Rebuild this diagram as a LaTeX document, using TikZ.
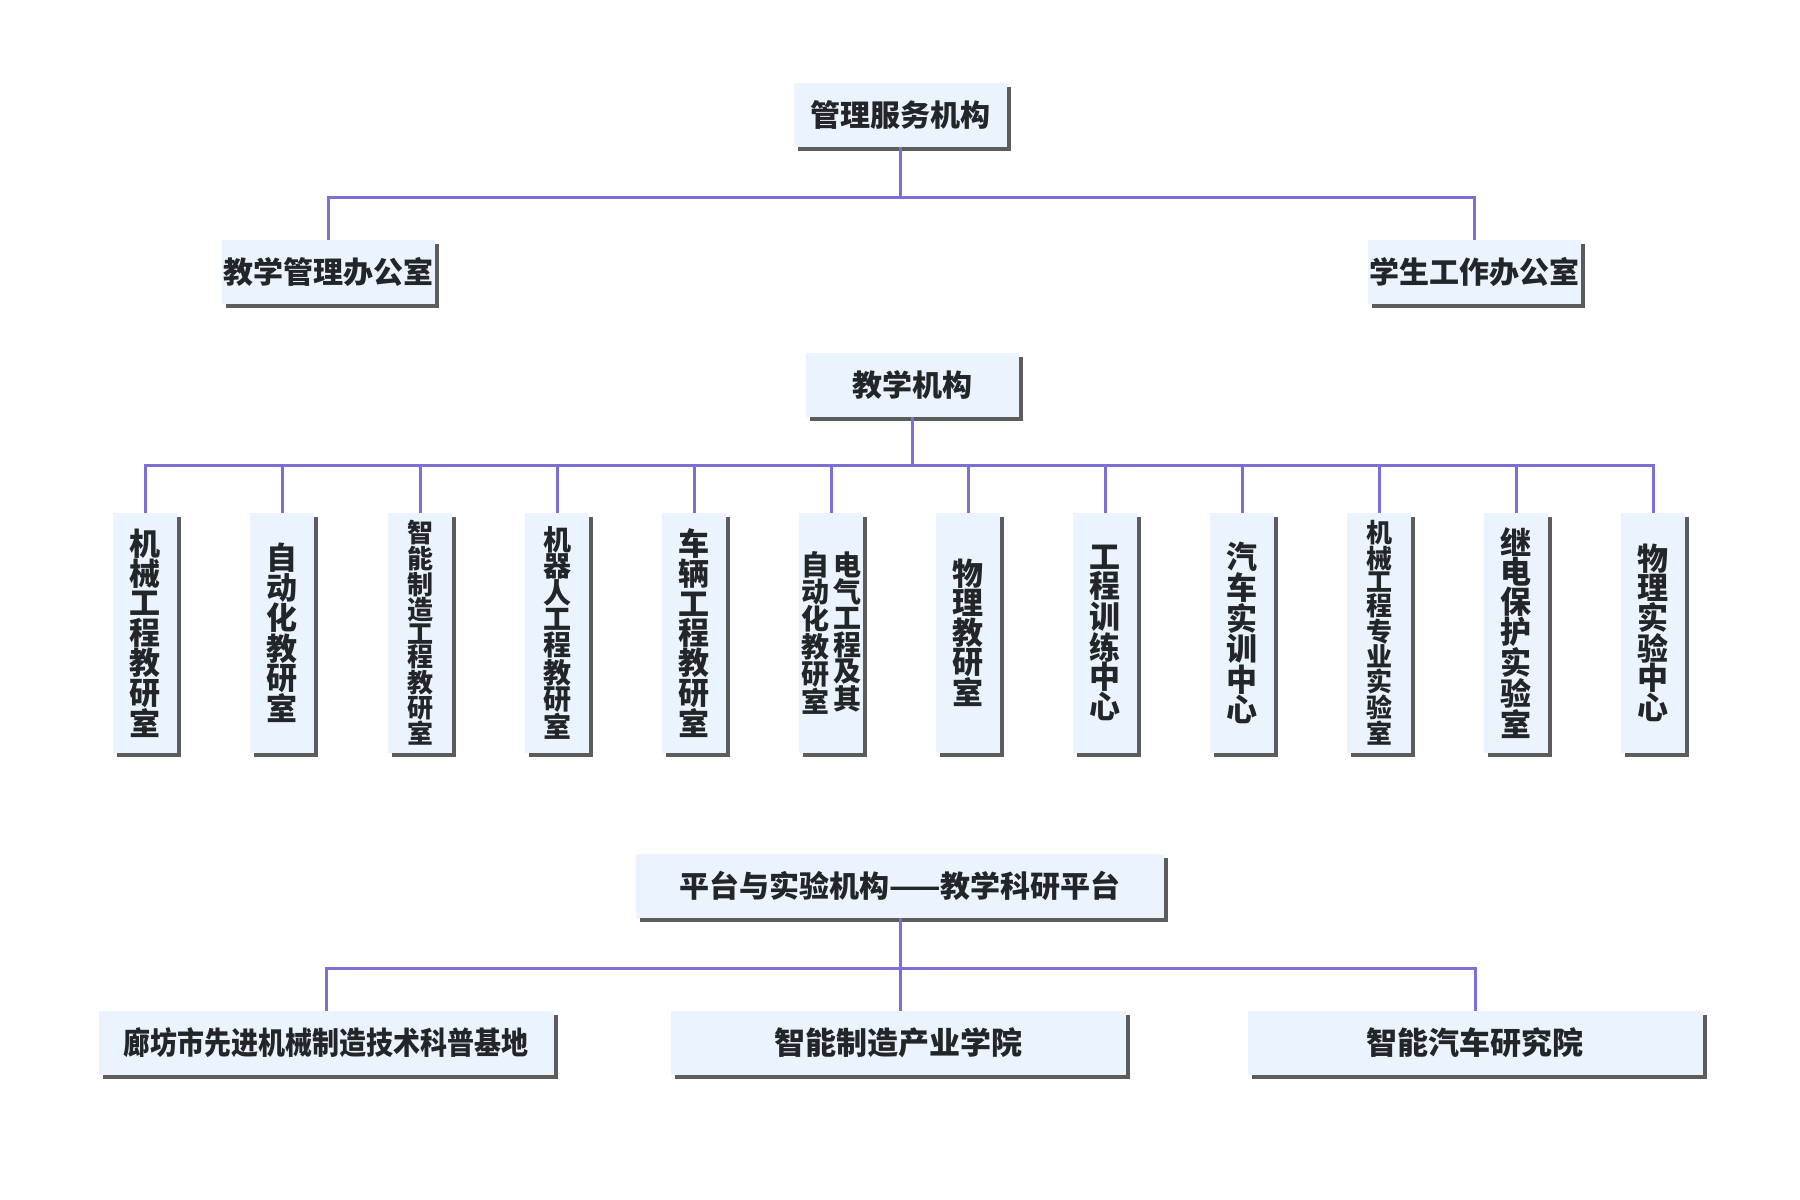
\documentclass[tikz,border=0pt]{standalone}
\usepackage{fontspec}
\setmainfont{Noto Sans CJK SC}[BoldFont={Noto Sans CJK SC Black}]
\usetikzlibrary{shadows}
\definecolor{boxfill}{RGB}{235,244,254}
\definecolor{linec}{RGB}{124,111,214}
\definecolor{txt}{RGB}{35,38,40}
\tikzset{
  box/.style={fill=boxfill, inner sep=0pt, text=txt,
    font=\bfseries\fontsize{30}{32}\selectfont,
    drop shadow={shadow xshift=4pt, shadow yshift=-4pt, fill=black!75, opacity=0.85}},
  hbox/.style={box, minimum height=64pt},
  lowbox/.style={hbox, minimum width=455pt, font=\bfseries\fontsize{31}{33}\selectfont},
  vbox/.style={box, minimum width=64pt, minimum height=240pt, align=center,
    font=\bfseries\fontsize{31}{29.3}\selectfont},
  vsmall/.style={font=\bfseries\fontsize{26}{23.5}\selectfont},
  vmid/.style={font=\bfseries\fontsize{28}{26}\selectfont},
  conn/.style={draw=linec, line width=3pt}
}
\begin{document}
\begin{tikzpicture}[x=1pt,y=-1pt]
\useasboundingbox (0,0) rectangle (1800,1200);
% top
\node[hbox, minimum width=213pt] (mgmt) at (900,115) {管理服务机构};
\node[hbox, minimum width=213pt] (jxgl) at (328,272) {教学管理办公室};
\node[hbox, minimum width=213pt] (xsgz) at (1474,272) {学生工作办公室};
\coordinate (bus1) at (0,197);
\draw[conn] (mgmt.south) -- (mgmt.south |- bus1) -| (jxgl.north);
\draw[conn] (mgmt.south |- bus1) -| (xsgz.north);
% teaching
\node[hbox, minimum width=213pt] (jxjg) at (912,385) {教学机构};
\node[vbox] (c1) at (145,633) {机\\械\\工\\程\\教\\研\\室};
\node[vbox] (c2) at (282,633) {自\\动\\化\\教\\研\\室};
\node[vbox, vsmall] (c3) at (420,633) {智\\能\\制\\造\\工\\程\\教\\研\\室};
\node[vbox, vmid] (c4) at (557,633) {机\\器\\人\\工\\程\\教\\研\\室};
\node[vbox] (c5) at (694,633) {车\\辆\\工\\程\\教\\研\\室};
\node[vbox, font=\bfseries\fontsize{28}{26.5}\selectfont] (c6) at (831,633)
  {\parbox[t]{28pt}{\centering 自\\动\\化\\教\\研\\室}\hspace{4pt}\parbox[t]{28pt}{\centering 电\\气\\工\\程\\及\\其}};
\node[vbox] (c7) at (968,633) {物\\理\\教\\研\\室};
\node[vbox] (c8) at (1105,633) {工\\程\\训\\练\\中\\心};
\node[vbox] (c9) at (1242,633) {汽\\车\\实\\训\\中\\心};
\node[vbox, vsmall] (c10) at (1379,633) {机\\械\\工\\程\\专\\业\\实\\验\\室};
\node[vbox] (c11) at (1516,633) {继\\电\\保\\护\\实\\验\\室};
\node[vbox] (c12) at (1653,633) {物\\理\\实\\验\\中\\心};
\coordinate (bus2) at (0,465);
\draw[conn] (jxjg.south) -- (jxjg.south |- bus2);
\foreach \i in {1,...,12} {
  \draw[conn] (jxjg.south |- bus2) -| (c\i.north);
}
% platform
\node[hbox, minimum width=528pt] (ptjg) at (900,886) {平台与实验机构——教学科研平台};
\node[lowbox] (d1) at (326,1043) {\scalebox{0.87}[1]{廊坊市先进机械制造技术科普基地}};
\node[lowbox] (d2) at (898,1043) {智能制造产业学院};
\node[lowbox] (d3) at (1475,1043) {智能汽车研究院};
\coordinate (bus3) at (0,968);
\draw[conn] (ptjg.south) -- (ptjg.south |- bus3) -| (d1.north);
\draw[conn] (ptjg.south |- bus3) -| (d3.north);
\draw[conn] (ptjg.south) -- (ptjg.south |- d2.north);
\end{tikzpicture}
\end{document}
